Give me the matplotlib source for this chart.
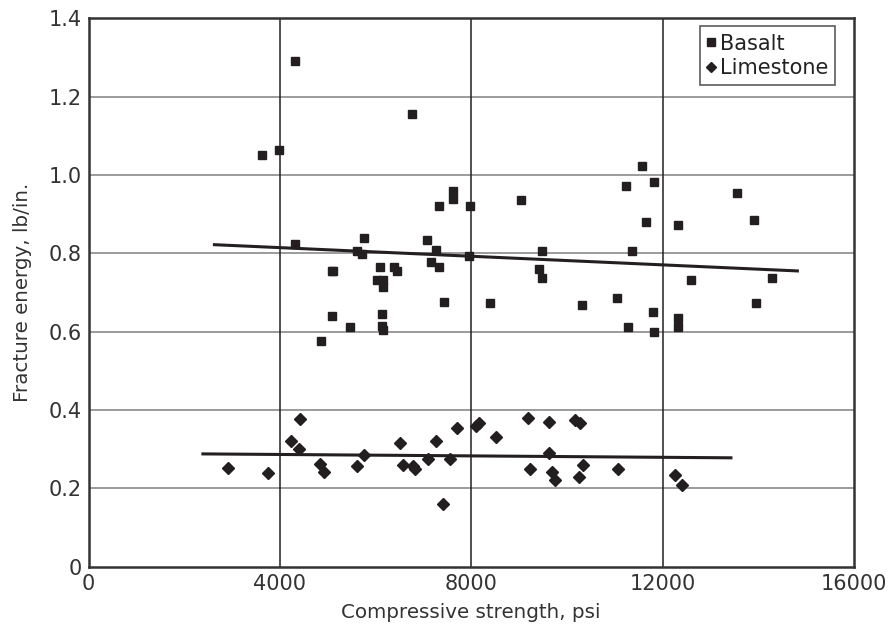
import matplotlib
matplotlib.use("Agg")
import matplotlib.pyplot as plt

# basalt: compressive strength (psi), fracture energy (lb/in.)
basalt_x = [3630, 3980, 4320, 4310, 6770, 5760, 5610, 5710, 5090, 5120,
            5090, 5470, 4860, 6100, 6380, 6450, 6030, 6150, 6150, 6140,
            6140, 6150, 7620, 7620, 7330, 7980, 9050, 7080, 7270, 7950,
            7160, 7330, 7440, 9470, 9420, 9470, 8400, 10320, 11050, 11580,
            11240, 11820, 11660, 11370, 11810, 11280, 11820, 13560, 12330, 13920,
            12600, 14280, 13960, 12330, 12330]
basalt_y = [1.052, 1.063, 1.292, 0.824, 1.156, 0.838, 0.807, 0.799, 0.754, 0.756,
            0.639, 0.611, 0.577, 0.766, 0.766, 0.754, 0.731, 0.732, 0.713, 0.646,
            0.615, 0.605, 0.958, 0.938, 0.922, 0.920, 0.935, 0.833, 0.809, 0.793,
            0.779, 0.766, 0.676, 0.807, 0.759, 0.738, 0.672, 0.667, 0.687, 1.022,
            0.973, 0.983, 0.881, 0.807, 0.651, 0.611, 0.598, 0.955, 0.871, 0.884,
            0.733, 0.736, 0.672, 0.634, 0.613]

limestone_x = [2920, 3750, 4420, 4230, 4400, 4830, 4920, 5620, 5750, 6510,
               6570, 6790, 6830, 7090, 7260, 7550, 7710, 8100, 7410, 8170,
               8510, 9190, 9630, 10180, 10270, 9630, 9220, 9690, 9760, 10330,
               10260, 11070, 12270, 12410]
limestone_y = [0.251, 0.238, 0.376, 0.322, 0.301, 0.261, 0.241, 0.257, 0.284, 0.316,
               0.260, 0.257, 0.249, 0.274, 0.322, 0.274, 0.353, 0.359, 0.161, 0.366,
               0.330, 0.379, 0.370, 0.375, 0.366, 0.290, 0.249, 0.243, 0.221, 0.259,
               0.230, 0.249, 0.233, 0.209]

# trend lines (end points)
basalt_fit_x = [2630, 14820]
basalt_fit_y = [0.822, 0.755]
limestone_fit_x = [2390, 13430]
limestone_fit_y = [0.288, 0.278]

x_ticks = [0, 4000, 8000, 12000, 16000]
y_ticks = [0, 0.2, 0.4, 0.6, 0.8, 1.0, 1.2, 1.4]
y_labels = ["0", "0.2", "0.4", "0.6", "0.8", "1.0", "1.2", "1.4"]

ink = "#231f20"
plt.rcParams["font.family"] = "DejaVu Sans"

fig = plt.figure(figsize=(8.95, 6.29), dpi=100)
ax = fig.add_axes([0.099, 0.099, 0.855, 0.872])

ax.set_xlim(0, 16000)
ax.set_ylim(0, 1.4)
ax.set_xticks(x_ticks)
ax.set_yticks(y_ticks)
ax.set_yticklabels(y_labels)
ax.tick_params(length=0, labelsize=15, colors="#333333", pad=5)

# gridlines: horizontal grey, vertical dark
for yv in y_ticks[1:-1]:
    ax.axhline(yv, color="#939393", lw=1.3, zorder=1)
for xv in x_ticks[1:-1]:
    ax.axvline(xv, color=ink, lw=1.1, zorder=1)

for s in ax.spines.values():
    s.set_color("#333333")
    s.set_linewidth(1.8)

ax.plot(basalt_fit_x, basalt_fit_y, color=ink, lw=2.2, zorder=2)
ax.plot(limestone_fit_x, limestone_fit_y, color=ink, lw=2.2, zorder=2)

ax.plot(basalt_x, basalt_y, ls="none", marker="s", ms=6, color=ink,
        label="Basalt", zorder=3)
ax.plot(limestone_x, limestone_y, ls="none", marker="D", ms=6.5, color=ink,
        label="Limestone", zorder=3)

leg = ax.legend(loc="upper right", bbox_to_anchor=(0.976, 0.985), fontsize=15,
                frameon=True, fancybox=False, handlelength=0.4, handletextpad=0.2,
                borderpad=0.35, labelspacing=0.2, markerscale=0.85,
                borderaxespad=0)
leg.get_frame().set_edgecolor("#333333")
leg.get_frame().set_linewidth(1.2)
for t in leg.get_texts():
    t.set_color("#222222")

ax.set_xlabel("Compressive strength, psi", fontsize=14.3, color="#333333", labelpad=7)
ax.set_ylabel("Fracture energy, lb/in.", fontsize=14.3, color="#333333", labelpad=12)

fig.savefig("out.png", dpi=100)
